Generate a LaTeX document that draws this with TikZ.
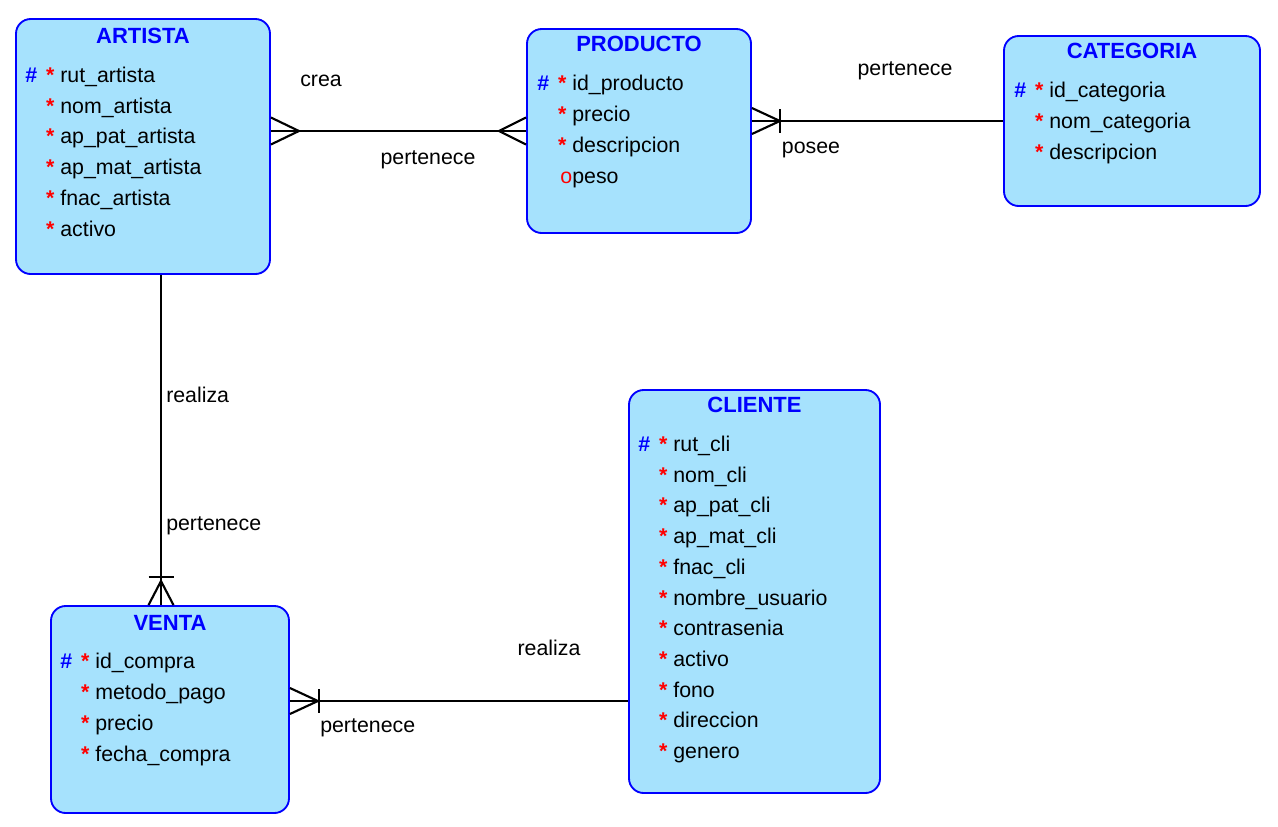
\documentclass[tikz,border=0pt]{standalone}
\usepackage{fontspec}
\setmainfont{Liberation Sans}
\usetikzlibrary{positioning, calc, fit}
\definecolor{entfill}{RGB}{166,226,253}
\definecolor{entblue}{RGB}{0,0,255}
\definecolor{reqred}{RGB}{255,0,0}
\newcommand{\mreq}{\llap{\textcolor{reqred}{\bfseries*}\space}}
\newcommand{\pkey}{\llap{\textcolor{entblue}{\bfseries\#}\hspace{17.3pt}}\mreq}
\newcommand{\mopt}{\llap{\textcolor{reqred}{o}}}

\begin{document}
\begin{tikzpicture}[x=0.75pt, y=-0.75pt, font=\fontsize{16}{18}\selectfont,
  entity/.style={draw=entblue, fill=entfill, line width=1.4pt, rounded corners=11pt, inner sep=0pt},
  etitle/.style={text=entblue, font=\fontsize{16.5}{18}\selectfont\bfseries, anchor=base, inner sep=0pt},
  attr/.style={anchor=base west, inner sep=0pt},
  rel/.style={line width=1.6pt, black},
  lbl/.style={anchor=base, inner sep=0pt}]
  \useasboundingbox (0,0) rectangle (1278,826);

  % entities
  \node[entity, fit={(16,19) (270,274)}] (artista) {};
  \node[entity, fit={(527,29) (751,233)}] (producto) {};
  \node[entity, fit={(1004,36) (1260,206)}] (categoria) {};
  \node[entity, fit={(629,390) (880,793)}] (cliente) {};
  \node[entity, fit={(51,606) (289,813)}] (venta) {};

  % titles
  \node[etitle] (tartista) at ($(artista.north)+(0,25)$) {ARTISTA};
  \node[etitle] (tproducto) at ($(producto.north)+(0,23.5)$) {PRODUCTO};
  \node[etitle] (tcategoria) at ($(categoria.north)+(0,23)$) {CATEGORIA};
  \node[etitle] (tcliente) at ($(cliente.north)+(0,23)$) {CLIENTE};
  \node[etitle] (tventa) at ($(venta.north)+(0,25)$) {VENTA};

  % attributes
  \foreach \a [count=\i from 0] in {\pkey rut\_artista, \mreq nom\_artista, \mreq ap\_pat\_artista, \mreq ap\_mat\_artista, \mreq fnac\_artista, \mreq activo}
    \node[attr] (aartista\i) at ($(artista.north west)+(45,{64.5+30.7*\i})$) {\a};
  \foreach \a [count=\i from 0] in {\pkey id\_producto, \mreq precio, \mreq descripcion, \mopt peso}
    \node[attr] (aproducto\i) at ($(producto.north west)+(46,{62.5+31*\i})$) {\a};
  \foreach \a [count=\i from 0] in {\pkey id\_categoria, \mreq nom\_categoria, \mreq descripcion}
    \node[attr] (acategoria\i) at ($(categoria.north west)+(46,{62.5+31*\i})$) {\a};
  \foreach \a [count=\i from 0] in {\pkey rut\_cli, \mreq nom\_cli, \mreq ap\_pat\_cli, \mreq ap\_mat\_cli, \mreq fnac\_cli, \mreq nombre\_usuario, \mreq contrasenia, \mreq activo, \mreq fono, \mreq direccion, \mreq genero}
    \node[attr] (acliente\i) at ($(cliente.north west)+(45,{62.5+30.7*\i})$) {\a};
  \foreach \a [count=\i from 0] in {\pkey id\_compra, \mreq metodo\_pago, \mreq precio, \mreq fecha\_compra}
    \node[attr] (aventa\i) at ($(venta.north west)+(45,{63.5+31*\i})$) {\a};

  % artista -- producto
  \draw[rel] (producto.west) -- (producto.west -| artista.east);
  \draw[rel] ($(artista.east |- producto.west)+(0,-13.5)$) -- ++(28,13.5) -- ++(-28,13.5);
  \draw[rel] ($(producto.west)+(0,-13.5)$) -- ++(-27,13.5) -- ++(27,13.5);
  \node[lbl] (lcrea) at (321,86) {crea};
  \node[lbl] (lpert1) at (428,164) {pertenece};

  % producto -- categoria
  \draw[rel] (categoria.west) -- (categoria.west -| producto.east);
  \draw[rel] ($(producto.east |- categoria.west)+(0,-13)$) -- ++(28,13) -- ++(-28,13);
  \draw[rel] ($(producto.east |- categoria.west)+(28,-12)$) -- ++(0,24);
  \node[lbl] (lpert2) at (905,75) {pertenece};
  \node[lbl] (lposee) at (811,153) {posee};

  % artista -- venta
  \coordinate (av) at ($(artista.south)+(18,0)$);
  \draw[rel] (av) -- (av |- venta.north);
  \draw[rel] ($(av |- venta.north)+(-12.5,0)$) -- ++(12.5,-24) -- ++(12.5,24);
  \draw[rel] ($(av |- venta.north)+(-12.5,-28)$) -- ++(25,0);
  \node[lbl, anchor=base west] (lrealiza1) at (166,402) {realiza};
  \node[lbl, anchor=base west] (lpert3) at (166,530) {pertenece};

  % venta -- cliente
  \coordinate (vc) at ($(venta.east)+(0,-8.5)$);
  \draw[rel] (vc) -- (vc -| cliente.west);
  \draw[rel] ($(vc)+(0,-13)$) -- ++(28,13) -- ++(-28,13);
  \draw[rel] ($(vc)+(29,-12)$) -- ++(0,24);
  \node[lbl] (lrealiza2) at (549,655) {realiza};
  \node[lbl, anchor=base west] (lpert4) at (320,732) {pertenece};
\end{tikzpicture}
\end{document}
